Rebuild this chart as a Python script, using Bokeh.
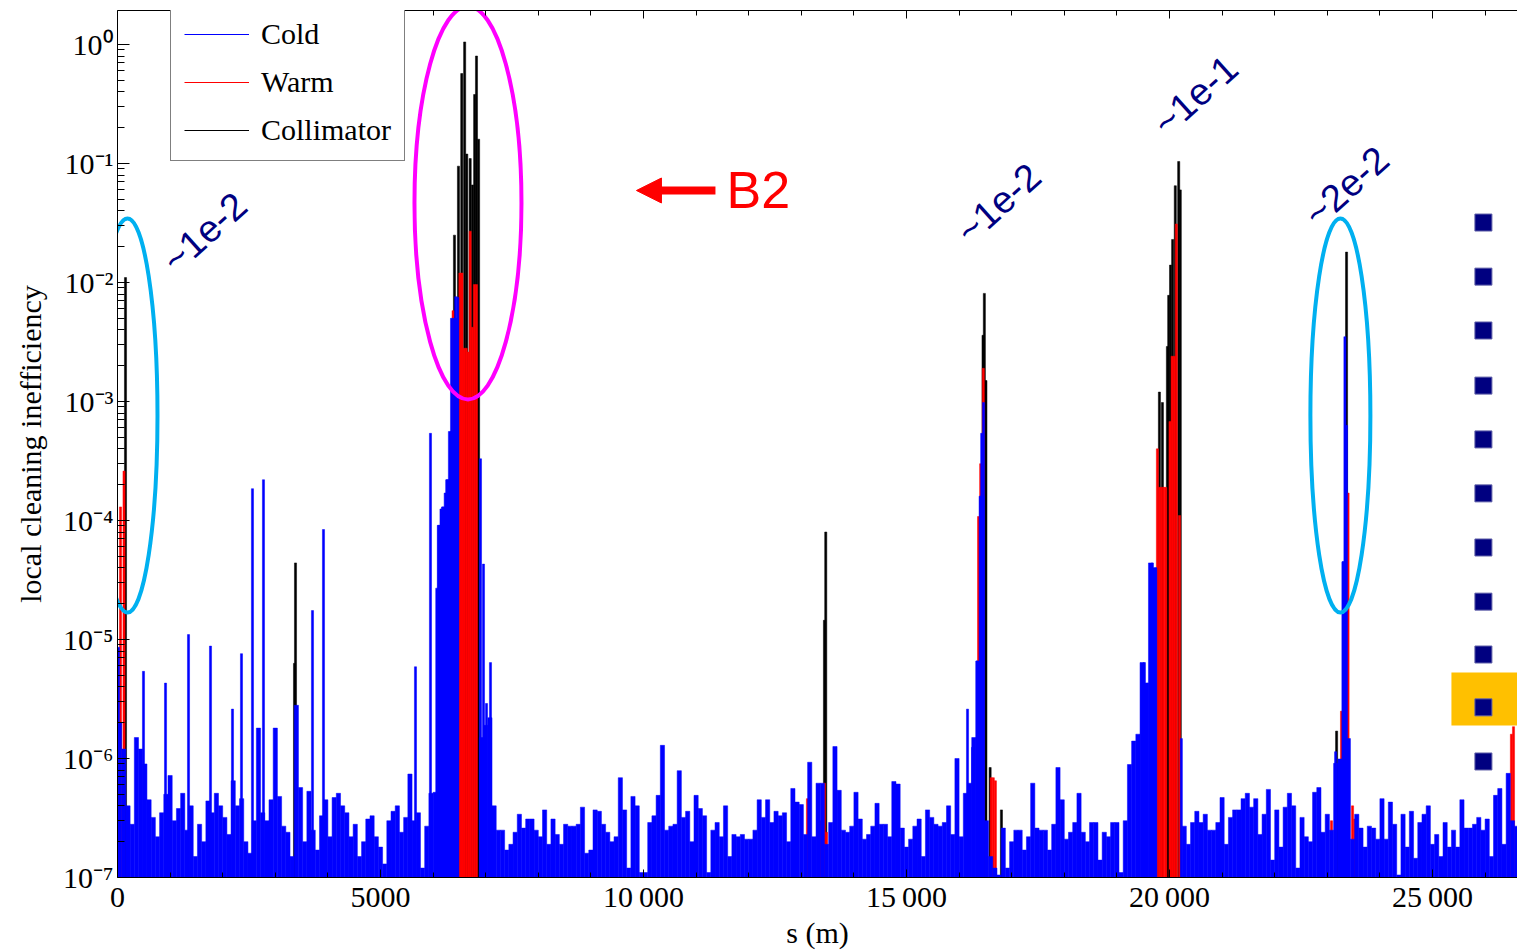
import numpy as np
from bokeh.plotting import figure
from bokeh.models import (Range1d, FixedTicker, LinearAxis, CustomJSTickFormatter,
                          Legend, LegendItem, Arrow, NormalHead)
from bokeh.core.properties import value
from bokeh.embed import file_html
from bokeh.resources import INLINE

BIN_M = 80.0  # length of one background bin along s (m)

# cold-aperture background, one value per 80 m bin starting at s = 0
cold_background = [
    2.0e-6, 1.2e-6, 4.0e-7, 2.8e-7, 1.5e-6, 1.2e-6, 9.0e-7, 4.5e-7, 3.2e-7, 2.2e-7,
    3.5e-7, 5.0e-7, 7.2e-7, 3.0e-7, 3.8e-7, 5.1e-7, 2.5e-7, 4.0e-7, 1.5e-7, 2.8e-7,
    2.0e-7, 4.4e-7, 3.5e-7, 5.1e-7, 4.0e-7, 3.2e-7, 2.3e-7, 6.5e-7, 4.0e-7, 4.6e-7,
    2.0e-7, 1.6e-7, 3.0e-7, 1.8e-6, 3.5e-7, 3.0e-7, 4.5e-7, 1.8e-6, 4.8e-7, 2.7e-7,
    2.4e-7, 1.5e-7, 2.8e-6, 5.7e-7, 2.0e-7, 5.3e-7, 2.5e-7, 1.7e-7, 3.3e-7, 4.5e-7,
    2.2e-7, 4.7e-7, 5.1e-7, 4.0e-7, 3.5e-7, 2.2e-7, 2.8e-7, 1.5e-7, 2.0e-7, 3.1e-7,
    3.3e-7, 2.2e-7, 1.8e-7, 1.3e-7, 3.0e-7, 3.6e-7, 4.0e-7, 2.4e-7, 3.2e-7, 7.4e-7,
    3.0e-7, 3.5e-7, 1.2e-7, 2.7e-7, 5.1e-7, 5.2e-7, 9.1e-5, 1.3e-4, 2.2e-4, 5.6e-4,
    5.0e-3, 1.0e-7, 1.0e-7, 1.0e-7, 1.0e-7, 1.0e-7, 1.5e-6, 1.9e-6, 2.2e-6, 4.0e-7,
    2.5e-7, 2.5e-7, 1.7e-7, 1.9e-7, 2.4e-7, 3.4e-7, 2.6e-7, 3.1e-7, 3.1e-7, 2.5e-7,
    2.2e-7, 3.7e-7, 1.9e-7, 3.1e-7, 2.3e-7, 1.9e-7, 2.8e-7, 2.7e-7, 2.7e-7, 2.8e-7,
    3.9e-7, 1.6e-7, 1.7e-7, 3.7e-7, 3.6e-7, 2.8e-7, 2.4e-7, 2.0e-7, 2.2e-7, 6.9e-7,
    3.7e-7, 1.2e-7, 4.8e-7, 4.0e-7, 1.1e-7, 1.1e-7, 2.9e-7, 3.3e-7, 4.9e-7, 1.29e-6,
    2.5e-7, 2.7e-7, 2.8e-7, 7.9e-7, 3.2e-7, 3.6e-7, 2.0e-7, 4.9e-7, 3.8e-7, 3.3e-7,
    1.1e-7, 2.5e-7, 2.9e-7, 2.2e-7, 4.0e-7, 1.5e-7, 2.3e-7, 2.2e-7, 2.3e-7, 2.1e-7,
    2.1e-7, 2.5e-7, 4.5e-7, 3.2e-7, 4.5e-7, 2.9e-7, 3.6e-7, 3.3e-7, 3.5e-7, 2.0e-7,
    5.6e-7, 4.3e-7, 4.1e-7, 2.3e-7, 9.3e-7, 2.2e-7, 6.2e-7, 6.2e-7, 1.9e-7, 2.9e-7,
    1.26e-6, 5.4e-7, 2.5e-7, 2.4e-7, 2.7e-7, 5.2e-7, 3.1e-7, 2.1e-7, 2.3e-7, 2.7e-7,
    4.2e-7, 2.8e-7, 2.8e-7, 2.2e-7, 6.4e-7, 6.1e-7, 2.6e-7, 1.8e-7, 2.1e-7, 2.7e-7,
    3.1e-7, 1.5e-7, 3.7e-7, 3.2e-7, 2.8e-7, 2.7e-7, 2.9e-7, 4.0e-7, 2.3e-7, 1.0e-6,
    2.2e-7, 5.1e-7, 6.2e-7, 1.5e-6, 6.6e-6, 1.6e-4, 3.0e-7, 1.5e-7, 1.2e-7, 1.05e-7,
    2.6e-7, 1.2e-7, 2.0e-7, 2.5e-7, 2.5e-7, 1.7e-7, 2.2e-7, 6.2e-7, 2.6e-7, 2.5e-7,
    2.5e-7, 1.7e-7, 2.8e-7, 8.4e-7, 4.5e-7, 2.1e-7, 2.4e-7, 2.9e-7, 5.1e-7, 2.4e-7,
    2.0e-7, 2.9e-7, 2.9e-7, 1.4e-7, 2.4e-7, 2.2e-7, 2.9e-7, 2.9e-7, 1.1e-7, 3.0e-7,
    8.9e-7, 1.4e-6, 1.6e-6, 6.4e-6, 4.3e-6, 4.4e-5, 4.0e-5, 1.0e-7, 1.0e-7, 1.0e-7,
    1.0e-7, 1.0e-7, 1.0e-7, 2.7e-7, 1.9e-7, 2.9e-7, 3.6e-7, 2.9e-7, 3.4e-7, 2.5e-7,
    2.5e-7, 2.9e-7, 4.7e-7, 1.9e-7, 3.2e-7, 3.7e-7, 3.7e-7, 4.6e-7, 5.1e-7, 3.9e-7,
    4.6e-7, 2.3e-7, 3.4e-7, 5.5e-7, 1.4e-7, 3.7e-7, 1.8e-7, 3.9e-7, 5.1e-7, 4.0e-7,
    1.2e-7, 3.2e-7, 2.2e-7, 2.0e-7, 5.2e-7, 5.7e-7, 2.4e-7, 3.4e-7, 2.5e-7, 9.1e-7,
    9.9e-7, 4.5e-5, 1.47e-6, 2.1e-7, 3.4e-7, 2.6e-7, 1.8e-7, 2.7e-7, 2.6e-7, 2.1e-7,
    4.6e-7, 2.1e-7, 4.3e-7, 2.8e-7, 1.05e-7, 3.4e-7, 1.8e-7, 3.6e-7, 1.45e-7, 2.9e-7,
    3.4e-7, 4.0e-7, 1.9e-7, 2.3e-7, 1.5e-7, 2.9e-7, 1.8e-7, 2.5e-7, 1.8e-7, 4.5e-7,
    2.6e-7, 2.6e-7, 2.8e-7, 3.2e-7, 2.5e-7, 3.1e-7, 1.5e-7, 4.9e-7, 5.6e-7, 1.9e-7,
    7.5e-7, 3.0e-7, 2.7e-7,
]

# cold-aperture peaks (s in m, local cleaning inefficiency)
cold_peak_s = [19, 494, 913, 1350, 1768, 2186, 2357, 2566, 2775, 3707, 3916, 5665, 5950,
               6070, 6110, 6150, 6190, 6230, 6270, 6310, 6350, 6390, 6430, 6470,
               6901, 6958, 7015, 7091, 16160, 16255, 16340, 16400, 16430, 16465,
               19523, 19580, 19656, 19675, 19732, 20225, 23158, 23300, 23335, 23365]
cold_peak_v = [8.6e-6, 5.4e-6, 4.3e-6, 1.1e-5, 8.8e-6, 2.6e-6, 7.6e-6, 1.85e-4, 2.2e-4, 1.75e-5, 8.4e-5, 5.9e-6, 5.4e-4,
               2.7e-5, 9.1e-5, 1.25e-4, 1.3e-4, 1.7e-4, 2.2e-4, 5.6e-4, 5.0e-3, 5.0e-3, 7.6e-3, 7.5e-3,
               3.3e-4, 4.3e-5, 2.9e-6, 6.4e-6, 2.6e-6, 1.24e-6, 6.6e-6, 1.6e-4, 5.4e-4, 9.8e-4,
               6.4e-6, 4.3e-6, 1.45e-5, 4.4e-5, 4.0e-5, 1.47e-6, 1.14e-6, 4.5e-5, 3.5e-3, 6.3e-4]

# warm-aperture losses
warm_s = [57, 124, 3080, 6380, 6510, 6550, 6590, 6630, 6670, 6705, 6745, 6785, 6825,
          13117, 13364, 13440, 13478, 16370, 16410, 16460, 16610, 16650, 16690,
          19770, 19810, 19850, 19890, 19930, 20010, 20050, 20090, 20130, 20190,
          23080, 23270, 23395, 23480, 23520, 26500, 26540]
warm_v = [1.3e-4, 2.6e-4, 3.5e-7, 5.8e-3, 1.2e-2, 1.2e-2, 2.8e-3, 2.8e-3, 2.6e-3, 2.7e-2, 4.2e-3, 9.6e-3, 9.6e-3,
          4.6e-7, 3.0e-7, 6.2e-7, 2.4e-7, 1.08e-4, 3.0e-4, 1.9e-3, 6.9e-7, 6.9e-7, 6.5e-7,
          4.0e-4, 1.9e-4, 1.9e-4, 1.9e-4, 1.9e-4, 6.8e-4, 2.4e-3, 2.4e-3, 3.1e-2, 1.1e-4,
          3.0e-7, 2.5e-6, 1.7e-4, 4.0e-7, 3.1e-7, 1.6e-6, 1.85e-6]

# collimator losses
coll_s = [152, 3365, 3384, 6406, 6482, 6545, 6600, 6640, 6705, 6750, 6790, 6825, 6865,
          13440, 13465, 16455, 16480, 16510, 16590, 16805,
          19808, 19865, 19960, 19985, 20020, 20060, 20110, 20175, 20205, 23177, 23366]
coll_v = [1.1e-2, 6.3e-6, 4.4e-5, 2.5e-2, 9.5e-2, 0.57, 1.05, 0.12, 0.11, 0.066, 0.38, 0.8, 0.16,
          1.45e-5, 8.0e-5, 3.6e-3, 8.1e-3, 1.5e-3, 8.4e-7, 3.7e-7,
          1.2e-3, 9.8e-4, 2.9e-3, 7.8e-3, 1.4e-2, 2.3e-2, 6.5e-2, 0.104, 0.06, 1.7e-6, 1.8e-2]

series_names = ["Cold", "Warm", "Collimator"]

x_ticks = [0, 5000, 10000, 15000, 20000, 25000]
x_minor_ticks = [1000, 2000, 3000, 4000, 6000, 7000, 8000, 9000, 11000, 12000, 13000, 14000,
                 16000, 17000, 18000, 19000, 21000, 22000, 23000, 24000, 26000]
y_ticks = [1e-7, 1e-6, 1e-5, 1e-4, 1e-3, 1e-2, 1e-1, 1e0]
y_minor_ticks = [m * d for d in y_ticks[:-1] for m in range(2, 10)]

# annotations
note_text = ["~1e-2", "~1e-2", "~1e-1", "~2e-2"]
note_s = [1654, 16748, 20493, 23363]
note_v = [0.0263, 0.0461, 0.373, 0.0641]
ring_s = [190, 6663, 23249]
ring_v = [7.62e-4, 0.0466, 7.62e-4]
marker_levels = [3.19e-2, 1.12e-2, 3.95e-3, 1.36e-3, 4.8e-4, 1.69e-4, 5.93e-5, 2.08e-5, 7.48e-6, 2.69e-6, 9.44e-7]
marker_s = 25968
beam_label = "B2"
beam_label_s = 11577
beam_level = 0.0593
arrow_tail_s, arrow_base_s, arrow_tip_s = 11368, 10330, 9866
box_s = (25360, 26700)
box_v = (1.89e-6, 5.28e-6)
legend_proxy_s = [-2000, -1000]       # outside the visible range: legend glyphs only
legend_proxy_v = [1e-3, 1e-3]

# ---------------- styles ----------------
BLUE, RED, BLACK = "#0000FF", "#FF0000", "#000000"
SERIF = "Liberation Serif"
SANS = "Liberation Sans"
BOTTOM = 1e-8
PEAK_W = 40

cold_bin_s = BIN_M * (np.arange(len(cold_background)) + 0.5)

p = figure(width=1517, height=951,
           x_range=Range1d(0, 26616), y_range=Range1d(1e-7, 1.93),
           y_axis_type="log", output_backend="svg", toolbar_location=None,
           min_border_left=117, min_border_right=0, min_border_top=10, min_border_bottom=74)
p.outline_line_color = None
p.xgrid.visible = False
p.ygrid.visible = False
p.background_fill_color = "white"
p.border_fill_color = "white"

p.vbar(x=coll_s, top=coll_v, bottom=BOTTOM, width=PEAK_W,
       fill_color=BLACK, line_color=BLACK, line_width=0.5)
p.vbar(x=warm_s, top=warm_v, bottom=BOTTOM, width=PEAK_W,
       fill_color=RED, line_color=RED, line_width=0.5)
p.vbar(x=cold_bin_s, top=cold_background, bottom=BOTTOM, width=BIN_M,
       fill_color=BLUE, line_color=BLUE, line_width=0.5)
p.vbar(x=cold_peak_s, top=cold_peak_v, bottom=BOTTOM, width=PEAK_W,
       fill_color=BLUE, line_color=BLUE, line_width=0.5)

# axes
xt = FixedTicker(ticks=x_ticks, minor_ticks=x_minor_ticks)
p.xaxis.ticker = xt
p.xaxis.formatter = CustomJSTickFormatter(code="""
const s = Math.round(tick).toString();
return s.length > 4 ? s.slice(0, s.length - 3) + '\\u2009' + s.slice(s.length - 3) : s;
""")
p.yaxis.ticker = FixedTicker(ticks=y_ticks, minor_ticks=y_minor_ticks)
p.yaxis.formatter = CustomJSTickFormatter(code=r"""
const sup = {'0':'\u2070','1':'\u00B9','2':'\u00B2','3':'\u00B3','4':'\u2074','5':'\u2075',
             '6':'\u2076','7':'\u2077','8':'\u2078','9':'\u2079','-':'\u207B'};
const e = Math.round(Math.log10(tick));
return '10' + String(e).split('').map(c => sup[c]).join('');
""")
p.xaxis.axis_label = "s (m)"
p.yaxis.axis_label = "local cleaning inefficiency"

for ax, maj, mnr in [(p.xaxis[0], 8, 5), (p.yaxis[0], 12, 7)]:
    ax.major_tick_in = maj
    ax.major_tick_out = 0
    ax.minor_tick_in = mnr
    ax.minor_tick_out = 0
    ax.axis_line_color = BLACK
    ax.major_tick_line_color = BLACK
    ax.minor_tick_line_color = BLACK
    ax.major_label_text_font = SERIF
    ax.major_label_text_font_size = "30px"
    ax.major_label_text_color = BLACK
    ax.axis_label_text_font = SERIF
    ax.axis_label_text_font_size = "30px"
    ax.axis_label_text_font_style = "normal"
    ax.axis_label_text_color = BLACK
p.xaxis.major_label_standoff = 2
p.xaxis.axis_label_standoff = 0
p.yaxis.major_label_standoff = 4
p.yaxis.axis_label_standoff = 13

top_axis = LinearAxis(ticker=xt, formatter=CustomJSTickFormatter(code="return '';"),
                      major_tick_in=8, major_tick_out=0, minor_tick_in=5, minor_tick_out=0,
                      major_label_standoff=0, major_label_text_font_size="1px",
                      axis_line_color=BLACK)
p.add_layout(top_axis, "above")

# annotations
p.ellipse(x=ring_s, y=ring_v, width=[60, 107, 60], height=[394, 393, 394],
          width_units="screen", height_units="screen",
          fill_color=None, line_color=["#00B0F0", "#FF00FF", "#00B0F0"], line_width=4)

p.text(x=note_s, y=note_v, text=note_text, angle=0.733,
       text_font=value(SANS), text_font_size=value("38px"), text_color="#000080",
       text_align="center", text_baseline="middle")

p.segment(x0=[arrow_tail_s], y0=[beam_level], x1=[arrow_base_s], y1=[beam_level],
          line_color=RED, line_width=8)
p.add_layout(Arrow(end=NormalHead(size=25, fill_color=RED, line_color=RED, line_width=1),
                   x_start=arrow_tail_s, y_start=beam_level, x_end=arrow_tip_s, y_end=beam_level,
                   line_alpha=0.0))
p.text(x=[beam_label_s], y=[beam_level], text=[beam_label],
       text_font=value(SANS), text_font_size=value("52px"), text_color=RED,
       text_align="left", text_baseline="middle")

p.quad(left=[box_s[0]], right=[box_s[1]], bottom=[box_v[0]], top=[box_v[1]],
       fill_color="#FFC000", line_color=None)
p.scatter(x=[marker_s] * len(marker_levels), y=marker_levels, marker="square", size=17,
          fill_color="#000080", line_color="#6060A8", line_width=1)

# legend (line glyphs as in the original)
r_cold = p.line(x=legend_proxy_s, y=legend_proxy_v, line_color=BLUE, line_width=1)
r_warm = p.line(x=legend_proxy_s, y=legend_proxy_v, line_color=RED, line_width=1)
r_coll = p.line(x=legend_proxy_s, y=legend_proxy_v, line_color=BLACK, line_width=1)
legend = Legend(items=[LegendItem(label=series_names[0], renderers=[r_cold]),
                       LegendItem(label=series_names[1], renderers=[r_warm]),
                       LegendItem(label=series_names[2], renderers=[r_coll])],
                location=(53, 716))
legend.margin = 0
legend.padding = 13
legend.spacing = 14
legend.glyph_width = 65
legend.glyph_height = 34
legend.label_height = 34
legend.label_standoff = 12
legend.label_text_font = SERIF
legend.label_text_font_size = "30px"
legend.label_text_color = BLACK
legend.border_line_color = BLACK
legend.border_line_width = 1
legend.background_fill_color = "white"
legend.background_fill_alpha = 1.0
p.add_layout(legend)

open("out.html", "w", encoding="utf-8").write(file_html(p, INLINE))
